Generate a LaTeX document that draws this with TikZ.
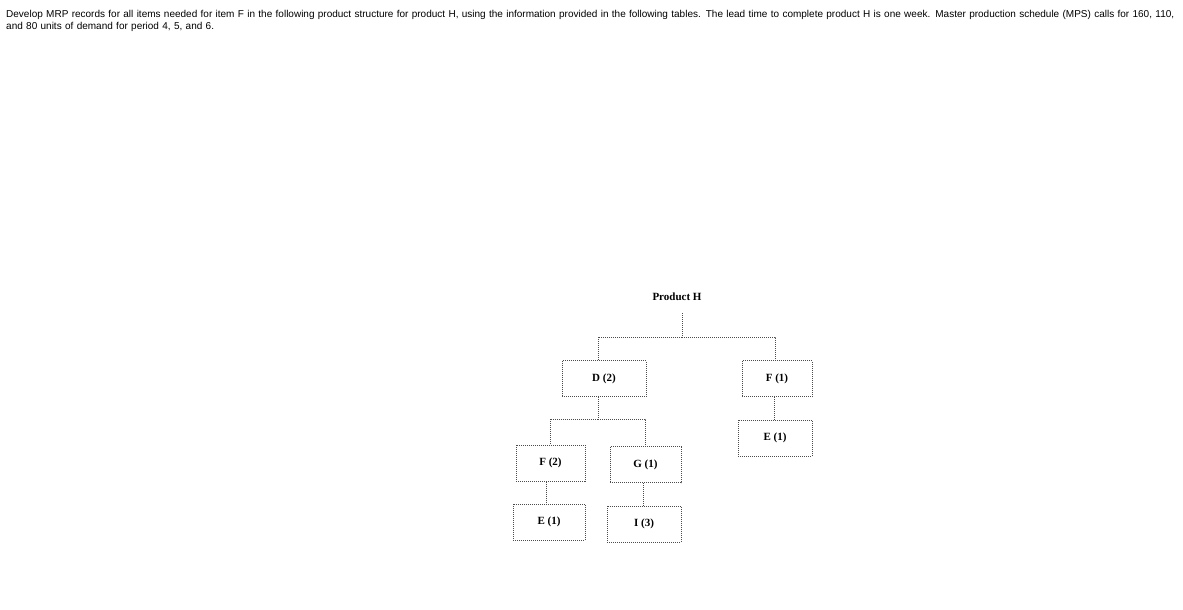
\documentclass[tikz,border=0pt]{standalone}
\usepackage{fontspec}
\setmainfont{Liberation Sans}
\newfontfamily\tms{Liberation Serif}
\begin{document}
\begin{tikzpicture}[x=1pt,y=-1pt,
  bx/.style={draw=black!70,densely dotted,line width=1pt,minimum width=#1,minimum height=36pt,inner sep=0pt,font=\tms\bfseries\fontsize{11}{12}\selectfont},
  ln/.style={draw=black!70,densely dotted,line width=1pt}]
\useasboundingbox (0,0) rectangle (1183,610);
\node[anchor=north west,align=left,font=\fontsize{10}{12.5}\selectfont,text width=1170pt,inner sep=0pt] (hdr) at (6,10) {Develop MRP records for all items needed for item F in the following product structure for product H, using the information provided in the following tables. The lead time to complete product H is one week. Master production schedule (MPS) calls for 160, 110, and 80 units of demand for period 4, 5, and 6.};
\node[font=\tms\bfseries\fontsize{11}{12}\selectfont] (H) at (677,297) {Product H};
\node[bx=84pt] (D) at (604,378.5) {D (2)};
\node[bx=70pt] (F1) at (777,378.5) {F (1)};
\node[bx=74pt] (E1) at (775,438) {E (1)};
\node[bx=69pt] (F2) at (550.5,463) {F (2)};
\node[bx=71pt] (G) at (645.5,464.5) {G (1)};
\node[bx=72pt] (E2) at (549,522) {E (1)};
\node[bx=74pt] (I) at (644,524) {I (3)};
\coordinate (h0) at (682,313);
\draw[ln] (h0) -- (682,337) -| (598,360);
\draw[ln] (682,337) -| (775,360);
\draw[ln] (598,397) -- (598,419) -| (550,444);
\draw[ln] (598,419) -| (645,446);
\draw[ln] (F1.south -| 774,0) -- (E1.north -| 774,0);
\draw[ln] (F2.south -| 546,0) -- (E2.north -| 546,0);
\draw[ln] (G.south -| 643,0) -- (I.north -| 643,0);
\end{tikzpicture}
\end{document}
